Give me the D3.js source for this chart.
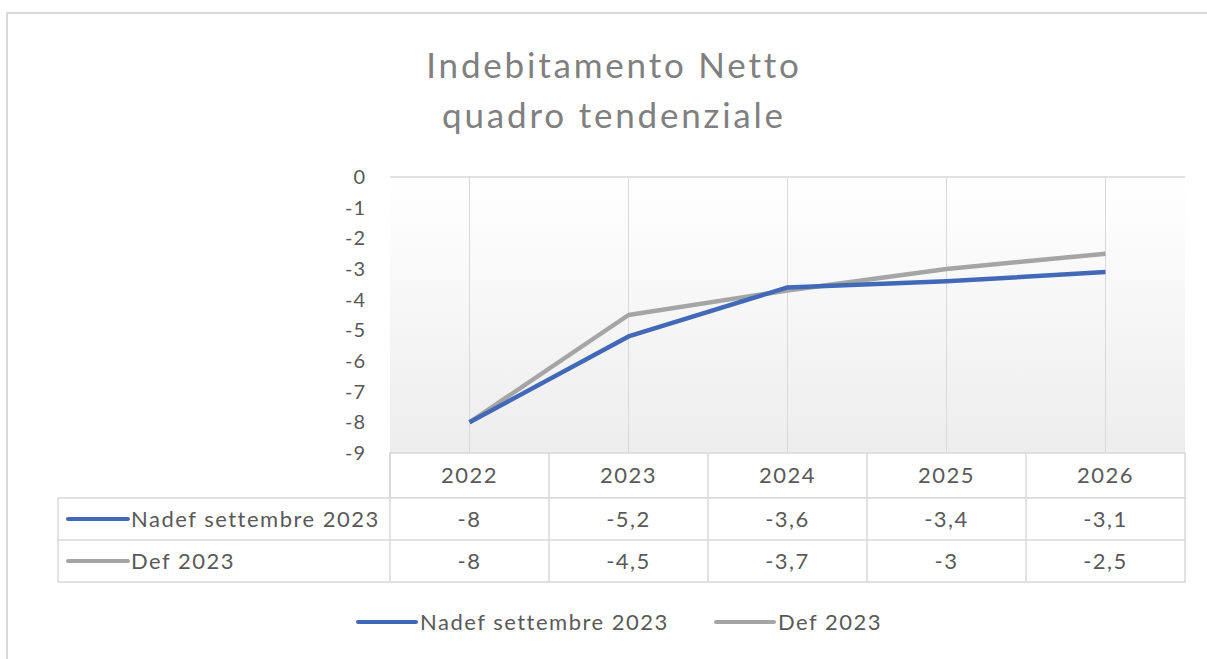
<!DOCTYPE html>
<html>
<head>
<meta charset="utf-8">
<script src="https://cdn.jsdelivr.net/npm/d3@7"></script>
<style>
  body { margin: 0; background: #fff; }
  svg { display: block; }
</style>
</head>
<body>
<div id="chart"></div>
<script>
// Indebitamento netto - quadro tendenziale (Nadef vs Def)
const years = ["2022", "2023", "2024", "2025", "2026"];
const nadefValues = [-8, -5.2, -3.6, -3.4, -3.1];
const defValues = [-8, -4.5, -3.7, -3, -2.5];
const seriesNames = ["Nadef settembre 2023", "Def 2023"];
const seriesColors = ["#4169b8", "#a5a5a5"];
const yTicks = [0, -1, -2, -3, -4, -5, -6, -7, -8, -9];
const titleLines = ["Indebitamento Netto", "quadro tendenziale"];

const series = [
    { name: seriesNames[0], values: nadefValues, color: seriesColors[0] },
    { name: seriesNames[1], values: defValues, color: seriesColors[1] }
];

const W = 1207, H = 659;
const font = "Lato, 'Open Sans', sans-serif";
const textColor = "#595959";
const gridColor = "#d9d9d9";
const fs = "22px", ls = "1.5px";

const svg = d3.select("#chart")
    .append("svg")
    .attr("width", W)
    .attr("height", H);

// chart frame
svg.append("path")
    .attr("d", `M7,${H} V13 H${W}`)
    .attr("fill", "none")
    .attr("stroke", "#d9d9d9")
    .attr("stroke-width", 2);

// plot area
const plot = { left: 390, right: 1185, top: 177, bottom: 453 };

const x = d3.scaleBand()
    .domain(years)
    .range([plot.left, plot.right]);

const y = d3.scaleLinear()
    .domain([-9, 0])
    .range([plot.bottom, plot.top]);

// gradient background
const defs = svg.append("defs");
const grad = defs.append("linearGradient")
    .attr("id", "bg")
    .attr("x1", 0).attr("y1", 0).attr("x2", 0).attr("y2", 1);
grad.append("stop").attr("offset", "0%").attr("stop-color", "#ffffff");
grad.append("stop").attr("offset", "100%").attr("stop-color", "#ededed");

svg.append("rect")
    .attr("x", plot.left)
    .attr("y", plot.top)
    .attr("width", plot.right - plot.left)
    .attr("height", plot.bottom - plot.top)
    .attr("fill", "url(#bg)");

// vertical grid lines at category centres
svg.append("g")
    .selectAll("line")
    .data(years)
    .enter()
    .append("line")
    .attr("x1", d => x(d) + x.bandwidth() / 2)
    .attr("x2", d => x(d) + x.bandwidth() / 2)
    .attr("y1", plot.top)
    .attr("y2", plot.bottom)
    .attr("stroke", gridColor)
    .attr("stroke-width", 1);

// top line at zero
svg.append("line")
    .attr("x1", plot.left)
    .attr("x2", plot.right)
    .attr("y1", y(0))
    .attr("y2", y(0))
    .attr("stroke", gridColor)
    .attr("stroke-width", 1.5);

// y axis labels
const yAxis = svg.append("g")
    .attr("transform", `translate(${plot.left},0)`)
    .call(d3.axisLeft(y).tickValues(yTicks).tickSize(0).tickPadding(24).tickFormat(d => String(d)));
yAxis.select(".domain").remove();
yAxis.selectAll("text")
    .attr("font-family", font)
    .attr("font-size", "20px")
    .attr("letter-spacing", "1px")
    .attr("fill", textColor);

// lines
const line = d3.line()
    .x((d, i) => x(years[i]) + x.bandwidth() / 2)
    .y(d => y(d));

svg.append("g")
    .selectAll("path")
    .data(series.slice().reverse())
    .enter()
    .append("path")
    .attr("d", d => line(d.values))
    .attr("fill", "none")
    .attr("stroke", d => d.color)
    .attr("stroke-width", 4.5)
    .attr("stroke-linejoin", "round");

// data table
const tableLeft = 58;
const rowEdges = [453, 498, 540, 582];
const fmt = v => String(v).replace(".", ",");
const tbl = svg.append("g");

// cell borders
tbl.append("rect")
    .attr("x", plot.left).attr("y", rowEdges[0])
    .attr("width", plot.right - plot.left).attr("height", rowEdges[1] - rowEdges[0])
    .attr("fill", "#fff").attr("stroke", gridColor).attr("stroke-width", 1.5);
tbl.append("rect")
    .attr("x", tableLeft).attr("y", rowEdges[1])
    .attr("width", plot.right - tableLeft).attr("height", rowEdges[3] - rowEdges[1])
    .attr("fill", "#fff").attr("stroke", gridColor).attr("stroke-width", 1.5);
tbl.append("line")
    .attr("x1", tableLeft).attr("x2", plot.right)
    .attr("y1", rowEdges[2]).attr("y2", rowEdges[2])
    .attr("stroke", gridColor).attr("stroke-width", 1.5);
tbl.selectAll("line.col")
    .data(years)
    .enter()
    .append("line")
    .attr("class", "col")
    .attr("x1", d => x(d)).attr("x2", d => x(d))
    .attr("y1", rowEdges[0]).attr("y2", rowEdges[3])
    .attr("stroke", gridColor).attr("stroke-width", 1.5);

// header years
tbl.selectAll("text.year")
    .data(years)
    .enter()
    .append("text")
    .attr("class", "year")
    .attr("x", d => x(d) + x.bandwidth() / 2)
    .attr("y", (rowEdges[0] + rowEdges[1]) / 2)
    .attr("dy", "0.36em")
    .attr("text-anchor", "middle")
    .attr("font-family", font)
    .attr("font-size", fs)
    .attr("letter-spacing", ls)
    .attr("fill", textColor)
    .text(d => d);

// series rows
series.forEach((s, r) => {
    const cy = (rowEdges[r + 1] + rowEdges[r + 2]) / 2;
    tbl.append("line")
        .attr("x1", 68).attr("x2", 128)
        .attr("y1", cy).attr("y2", cy)
        .attr("stroke", s.color).attr("stroke-width", 4).attr("stroke-linecap", "round");
    tbl.append("text")
        .attr("x", 131).attr("y", cy).attr("dy", "0.36em")
        .attr("font-family", font).attr("font-size", fs)
        .attr("letter-spacing", ls)
        .attr("fill", textColor)
        .text(s.name);
    tbl.selectAll(null)
        .data(s.values)
        .enter()
        .append("text")
        .attr("x", (d, i) => x(years[i]) + x.bandwidth() / 2)
        .attr("y", cy).attr("dy", "0.36em")
        .attr("text-anchor", "middle")
        .attr("font-family", font).attr("font-size", fs)
        .attr("letter-spacing", ls)
        .attr("fill", textColor)
        .text(d => fmt(d));
});

// legend
const legendY = 622;
const legendItems = [{ s: series[0], x: 358 }, { s: series[1], x: 716 }];
legendItems.forEach(it => {
    svg.append("line")
        .attr("x1", it.x).attr("x2", it.x + 58)
        .attr("y1", legendY).attr("y2", legendY)
        .attr("stroke", it.s.color).attr("stroke-width", 4).attr("stroke-linecap", "round");
    svg.append("text")
        .attr("x", it.x + 62).attr("y", legendY).attr("dy", "0.36em")
        .attr("font-family", font).attr("font-size", fs)
        .attr("letter-spacing", ls)
        .attr("fill", textColor)
        .text(it.s.name);
});

// title
svg.selectAll("text.title")
    .data(titleLines)
    .enter()
    .append("text")
    .attr("class", "title")
    .attr("x", 614)
    .attr("y", (d, i) => 78 + i * 50)
    .attr("text-anchor", "middle")
    .attr("font-family", font)
    .attr("font-size", "35px")
    .attr("letter-spacing", "2.8px")
    .attr("fill", "#808080")
    .text(d => d);
</script>
</body>
</html>
